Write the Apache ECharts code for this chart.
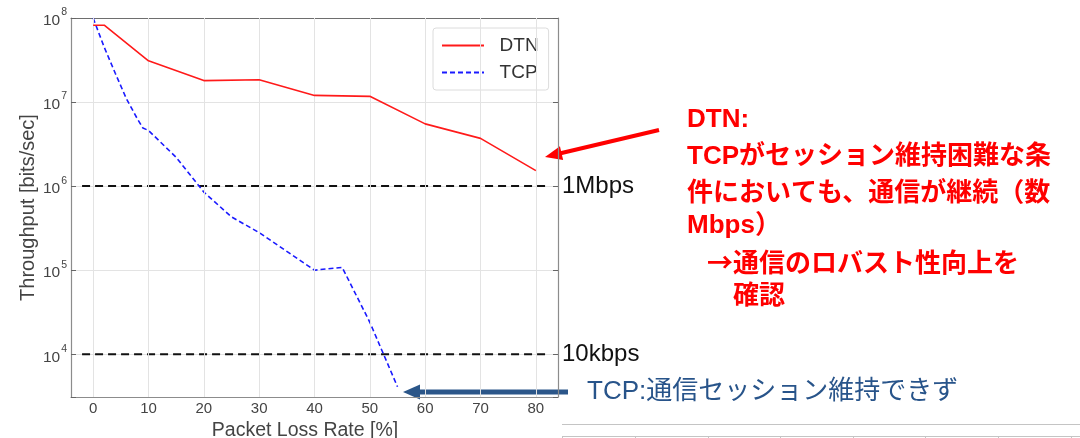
<!DOCTYPE html>
<html>
<head>
<meta charset="utf-8">
<title>DTN vs TCP throughput</title>
<script src="https://cdn.jsdelivr.net/npm/echarts@6/dist/echarts.min.js"></script>
<style>
  html, body { margin: 0; padding: 0; background: #fff; }
  #chart { width: 1080px; height: 438px; }
</style>
</head>
<body>
<div id="chart"></div>
<script>
// Packet loss rate [%] and measured throughput [bits/sec]
const dtnLoss = [0, 2, 10, 20, 30, 40, 50, 60, 70, 80];
const dtnThroughput = [8.2e7, 8.2e7, 3.1e7, 1.8e7, 1.84e7, 1.2e7, 1.17e7, 5.5e6, 3.7e6, 1.53e6];

const tcpLoss = [0, 2, 4, 6, 8, 9, 10, 15, 20, 25, 30, 40, 45, 50, 55];
const tcpThroughput = [1e8, 4.5e7, 2.2e7, 1.1e7, 6.3e6, 4.9e6, 4.6e6, 2.2e6, 8.5e5, 4.3e5, 2.8e5, 1e5, 1.08e5, 2.4e4, 4.1e3];

// Reference levels (bits/sec) and the loss range they span
const refLevels = [1e6, 1e4];
const refLabels = ['1Mbps', '10kbps'];
const refSpan = [-2, 82];

const xTicks = [0, 10, 20, 30, 40, 50, 60, 70, 80];

const FONT = "'Liberation Sans', Arial, sans-serif";
const JP_FONT = "'Liberation Sans', 'Noto Sans CJK JP', sans-serif";
const JP_FIRST = "'Noto Sans CJK JP', 'Liberation Sans', sans-serif";
const AXIS_COLOR = '#8c8c8c';
const LABEL_COLOR = '#444';
const GRID_COLOR = '#e3e3e3';

const chart = echarts.init(document.getElementById('chart'), null, { renderer: 'canvas' });

function pairs(xs, ys) { return xs.map((x, i) => [x, ys[i]]); }

function powLabel(v) {
  const e = Math.log10(v);
  const r = Math.round(e);
  if (Math.abs(e - r) > 1e-6) return '';
  return '{b|10}{e|' + r + '}';
}

// arrow made of a thick shaft and a triangular head
function arrow(x1, y1, x2, y2, color, width, headLen, headHalf) {
  const dx = x2 - x1, dy = y2 - y1;
  const len = Math.hypot(dx, dy);
  const ux = dx / len, uy = dy / len;
  const nx = -uy, ny = ux;
  const bx = x2 - ux * headLen, by = y2 - uy * headLen;
  return [
    { type: 'line', silent: true, shape: { x1: x1, y1: y1, x2: bx + ux, y2: by + uy },
      style: { stroke: color, lineWidth: width } },
    { type: 'polygon', silent: true,
      shape: { points: [[x2, y2], [bx + nx * headHalf, by + ny * headHalf], [bx - nx * headHalf, by - ny * headHalf]] },
      style: { fill: color } }
  ];
}

const grid = { left: 71, right: 522, top: 18, bottom: 41, containLabel: false, outerBoundsMode: 'none' };

const xBase = { type: 'value', min: -4, max: 84 };
const yBase = { type: 'log', logBase: 10, min: 3100, max: 1e8 };

const refLine = (level) => ({
  name: 'ref',
  type: 'line',
  data: [[refSpan[0], level], [refSpan[1], level]],
  symbol: 'none',
  lineStyle: { color: '#111', width: 2, type: [8, 5] },
  silent: true,
  z: 3
});

const redText = [
  { t: 'DTN:', x: 687, y: 120, f: JP_FONT },
  { t: 'TCPがセッション維持困難な条', x: 687, y: 157, f: JP_FONT },
  { t: '件においても、通信が継続（数', x: 687, y: 194, f: JP_FONT },
  { t: 'Mbps）', x: 687, y: 226, f: JP_FONT },
  { t: '→通信のロバスト性向上を', x: 707, y: 262, f: JP_FIRST },
  { t: '確認', x: 733, y: 294, f: JP_FIRST }
];

const graphics = [];
redText.forEach(l => graphics.push({
  type: 'text', silent: true, x: l.x, y: l.y,
  style: { text: l.t, fill: '#ff0000', font: 'bold 26px ' + l.f, verticalAlign: 'middle', align: 'left' }
}));
graphics.push({
  type: 'text', silent: true, x: 587, y: 392,
  style: { text: 'TCP:通信セッション維持できず', fill: '#28548a', font: '26px ' + JP_FONT, verticalAlign: 'middle', align: 'left' }
});
refLabels.forEach((s, i) => graphics.push({
  type: 'text', silent: true, x: 562, y: [186, 354][i],
  style: { text: s, fill: '#111', font: '24px ' + FONT, verticalAlign: 'middle', align: 'left' }
}));
graphics.push(...arrow(659, 130, 545, 157, '#ff0000', 4, 17, 7));
graphics.push(...arrow(568, 392, 403, 392, '#2b5689', 5, 17, 7.5));
// table rule fragments in the lower right corner
graphics.push({ type: 'line', silent: true, shape: { x1: 562, y1: 424.5, x2: 1080, y2: 424.5 }, style: { stroke: '#c4c4c4', lineWidth: 1 } });
graphics.push({ type: 'line', silent: true, shape: { x1: 562, y1: 436.5, x2: 1080, y2: 436.5 }, style: { stroke: '#c4c4c4', lineWidth: 1 } });
[562, 635, 708, 780, 853, 925, 998, 1071].forEach(x => graphics.push({
  type: 'line', silent: true, shape: { x1: x + 0.5, y1: 436, x2: x + 0.5, y2: 438 }, style: { stroke: '#c4c4c4', lineWidth: 1 }
}));

chart.setOption({
  animation: false,
  backgroundColor: '#fff',
  textStyle: { fontFamily: FONT },
  grid: grid,
  legend: {
    data: ['DTN', 'TCP'],
    orient: 'vertical',
    left: 433, top: 28,
    padding: [8, 10, 8, 8],
    itemGap: 8,
    itemWidth: 42, itemHeight: 12,
    itemStyle: { opacity: 0 },
    formatter: name => '  ' + name,
    backgroundColor: '#fff',
    borderColor: '#dcdcdc', borderWidth: 1, borderRadius: 3,
    textStyle: { fontSize: 19, color: '#333', fontFamily: FONT }
  },
  xAxis: [
    Object.assign({}, xBase, {
      position: 'bottom',
      name: 'Packet Loss Rate [%]',
      nameLocation: 'middle',
      nameGap: 18,
      nameTextStyle: { fontSize: 19.5, color: LABEL_COLOR, fontFamily: FONT, padding: [0, 19, 0, 0] },
      axisLine: { show: true, onZero: false, lineStyle: { color: AXIS_COLOR, width: 1.2 } },
      axisTick: { show: true, inside: true, length: 5, customValues: xTicks, lineStyle: { color: '#666' } },
      axisLabel: { show: true, fontSize: 15, color: LABEL_COLOR, margin: 4, customValues: xTicks },
      splitLine: { show: false }
    }),
    Object.assign({}, xBase, {
      position: 'top',
      axisLine: { show: true, onZero: false, lineStyle: { color: '#6e6e6e', width: 1 } },
      axisTick: { show: true, inside: true, length: 5, customValues: xTicks, lineStyle: { color: '#666' } },
      axisLabel: { show: false },
      splitLine: { show: false }
    })
  ],
  yAxis: [
    Object.assign({}, yBase, {
      position: 'left',
      name: 'Throughput [bits/sec]',
      nameLocation: 'middle',
      nameGap: 33,
      nameTextStyle: { fontSize: 20, color: LABEL_COLOR, fontFamily: FONT },
      axisLine: { show: true, onZero: false, lineStyle: { color: AXIS_COLOR, width: 1.2 } },
      axisTick: { show: true, inside: true, length: 5, lineStyle: { color: '#666' } },
      minorTick: { show: false },
      axisLabel: {
        show: true, margin: 4,
        formatter: powLabel,
        rich: {
          b: { fontSize: 15.5, color: LABEL_COLOR, fontFamily: FONT, verticalAlign: 'bottom', lineHeight: 22 },
          e: { fontSize: 10.5, color: LABEL_COLOR, fontFamily: FONT, verticalAlign: 'top', lineHeight: 22, padding: [0, 0, 0, 1] }
        }
      },
      splitLine: { show: true, lineStyle: { color: GRID_COLOR, width: 1 } }
    }),
    Object.assign({}, yBase, {
      position: 'right',
      axisLine: { show: true, onZero: false, lineStyle: { color: AXIS_COLOR, width: 1.2 } },
      axisTick: { show: true, inside: true, length: 5, lineStyle: { color: '#666' } },
      axisLabel: { show: false },
      splitLine: { show: false }
    })
  ],
  series: [
    {
      // vertical grid lines at the labelled loss rates
      name: 'xgrid', type: 'line', data: [], silent: true, z: 1,
      markLine: {
        silent: true, symbol: 'none', animation: false,
        label: { show: false },
        lineStyle: { color: GRID_COLOR, width: 1, type: 'solid' },
        emphasis: { disabled: true },
        data: xTicks.map(v => ({ xAxis: v }))
      }
    },
    {
      name: 'DTN', type: 'line', xAxisIndex: 0, yAxisIndex: 0,
      data: pairs(dtnLoss, dtnThroughput),
      symbol: 'none', color: '#ff1a1a',
      lineStyle: { color: '#ff1a1a', width: 1.6, type: 'solid' },
      z: 5
    },
    {
      name: 'TCP', type: 'line', xAxisIndex: 0, yAxisIndex: 0,
      data: pairs(tcpLoss, tcpThroughput),
      symbol: 'none', color: '#1a1aff',
      lineStyle: { color: '#1a1aff', width: 1.6, type: [5, 3] },
      z: 4
    },
    refLine(refLevels[0]),
    refLine(refLevels[1])
  ],
  graphic: graphics
});
</script>
</body>
</html>
